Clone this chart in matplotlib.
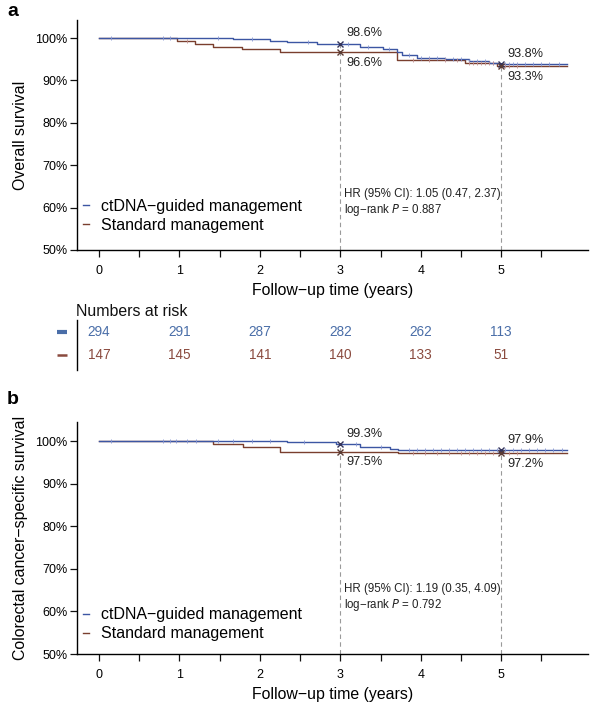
import matplotlib
matplotlib.use("Agg")
import matplotlib.pyplot as plt
from matplotlib.lines import Line2D
import numpy as np

plt.rcParams["font.family"] = ["Liberation Sans", "DejaVu Sans"]

BLUE = "#3c56a3"
BROWN = "#7a3f2e"
BLUE_TXT = "#4a6ea8"
BROWN_TXT = "#8a4a3e"
GREY = "#9a9a9a"

GROUPS = ["ctDNA\u2212guided management", "Standard management"]

# panel a: overall survival (step curves, %)
os_ct_t = [0, 1.67, 2.13, 2.34, 2.71, 3.25, 3.53, 3.70, 3.77, 3.95, 4.30, 4.60, 4.85, 4.97, 5.82]
os_ct_s = [100, 99.7, 99.3, 99.0, 98.6, 98.0, 97.5, 96.6, 95.9, 95.3, 95.0, 94.6, 94.2, 93.8, 93.8]
os_st_t = [0, 0.97, 1.19, 1.42, 1.78, 2.25, 3.70, 4.55, 4.95, 5.82]
os_st_s = [100, 99.3, 98.6, 97.9, 97.3, 96.6, 94.8, 94.2, 93.3, 93.3]
os_ct_cens = [0.15, 0.80, 0.88, 1.48, 1.90, 2.60, 3.10, 3.35, 3.60, 3.85, 4.00, 4.10, 4.20, 4.30,
              4.40, 4.50, 4.60, 4.70, 4.80, 4.90, 5.05, 5.10, 5.15, 5.20, 5.30, 5.40, 5.50, 5.60, 5.72]
os_st_cens = [1.10, 3.90, 4.10, 4.30, 4.45, 4.60, 4.65, 4.70, 4.75, 4.80, 4.85, 4.90, 5.00, 5.05, 5.10, 5.20]

# panel b: colorectal cancer-specific survival
css_ct_t = [0, 2.34, 2.95, 3.25, 3.62, 3.72, 5.82]
css_ct_s = [100, 99.7, 99.3, 98.6, 98.2, 97.9, 97.9]
css_st_t = [0, 1.42, 1.79, 2.25, 3.72, 5.82]
css_st_s = [100, 99.3, 98.6, 97.5, 97.2, 97.2]
css_ct_cens = [0.15, 0.80, 0.88, 0.96, 1.10, 1.20, 1.48, 1.67, 1.90, 2.12, 2.55, 3.20, 3.50, 3.85,
               3.95, 4.05, 4.15, 4.25, 4.35, 4.45, 4.55, 4.65, 4.75, 4.85, 4.95, 5.05, 5.15, 5.25,
               5.35, 5.45, 5.55, 5.65, 5.75]
css_st_cens = [3.90, 4.05, 4.20, 4.35, 4.50, 4.60, 4.70, 4.80, 4.90, 5.00, 5.10, 5.20]

# landmark estimates at 3 and 5 years
landmarks = [3, 5]
os_marks_ct = [98.6, 93.8]
os_marks_st = [96.6, 93.3]
css_marks_ct = [99.3, 97.9]
css_marks_st = [97.5, 97.2]

# numbers at risk
risk_times = [0, 1, 2, 3, 4, 5]
risk_ct = [294, 291, 287, 282, 262, 113]
risk_st = [147, 145, 141, 140, 133, 51]

os_stats = ["HR (95% CI): 1.05 (0.47, 2.37)", "log\u2212rank $P$ = 0.887"]
css_stats = ["HR (95% CI): 1.19 (0.35, 4.09)", "log\u2212rank $P$ = 0.792"]

XLIM = (-0.274, 6.08)


def surv_at(times, surv, t):
    idx = np.searchsorted(times, t, side="right") - 1
    return np.array(surv)[idx]


def km_panel(ax, ct_t, ct_s, st_t, st_s, ct_c, st_c, m_ct, m_st, stats, stats_y, ylabel, ytop,
             leg_y):
    ax.step(st_t, st_s, where="post", color=BROWN, lw=1.0, zorder=3)
    ax.step(ct_t, ct_s, where="post", color=BLUE, lw=1.0, zorder=4)
    ax.plot(ct_c, surv_at(ct_t, ct_s, ct_c), ls="none", marker="|", ms=2.6, mew=0.6,
            color="#8797d4", zorder=5)
    ax.plot(st_c, surv_at(st_t, st_s, st_c), ls="none", marker="|", ms=2.6, mew=0.6,
            color="#c49090", zorder=5)
    for x, hi, lo in zip(landmarks, m_ct, m_st):
        ax.plot([x, x], [50, max(hi, lo)], color=GREY, lw=0.8, ls=(0, (4, 3)), zorder=1)
        ax.plot([x], [hi], marker="x", ms=4.5, mew=1.0, color="#33335a", zorder=6)
        ax.plot([x], [lo], marker="x", ms=4.5, mew=1.0, color="#5a3a33", zorder=6)
        ax.annotate(f"{hi:.1f}%", (x, hi), xytext=(4.3, 7.6), textcoords="offset points",
                    ha="left", va="center", fontsize=9.2, color="#222222")
        ax.annotate(f"{lo:.1f}%", (x, lo), xytext=(4.3, -7.6), textcoords="offset points",
                    ha="left", va="center", fontsize=9.2, color="#222222")
    ax.text(3.05, stats_y[0], stats[0], fontsize=8.3, ha="left", va="center", color="#222222")
    ax.text(3.05, stats_y[1], stats[1], fontsize=8.3, ha="left", va="center", color="#222222")

    handles = [Line2D([], [], color=BLUE, lw=1.0), Line2D([], [], color=BROWN, lw=1.0)]
    ax.legend(handles, GROUPS, loc="lower left", bbox_to_anchor=(0.012, leg_y), frameon=False,
              fontsize=11.5, handlelength=0.35, handletextpad=0.75, labelspacing=0.25,
              borderpad=0, borderaxespad=0)

    ax.set_xlim(*XLIM)
    ax.set_ylim(50, ytop)
    ax.set_xticks(np.arange(0, 5.6, 0.5))
    ax.set_xticklabels([str(int(v)) if v == int(v) else "" for v in np.arange(0, 5.6, 0.5)])
    ax.set_yticks(range(50, 101, 10))
    ax.set_yticklabels([f"{v}%" for v in range(50, 101, 10)])
    ax.tick_params(axis="both", labelsize=9.0, length=5, width=0.9, direction="out",
                   color="#111111")
    ax.tick_params(axis="x", pad=6)
    ax.tick_params(axis="y", pad=2)
    for s in ("top", "right"):
        ax.spines[s].set_visible(False)
    for s in ("left", "bottom"):
        ax.spines[s].set_linewidth(1.0)
    ax.set_xlabel("Follow\u2212up time (years)", fontsize=11.4, labelpad=4)
    ax.set_ylabel(ylabel, fontsize=11.4, labelpad=5)


fig = plt.figure(figsize=(5.94, 7.05), dpi=100)

ax_a = fig.add_axes([0.1296, 0.6454, 0.8604, 0.3262])
km_panel(ax_a, os_ct_t, os_ct_s, os_st_t, os_st_s, os_ct_cens, os_st_cens,
         os_marks_ct, os_marks_st, os_stats, (63.2, 59.4), "Overall survival", 104.25, 0.075)

ax_r = fig.add_axes([0.1296, 0.4752, 0.8604, 0.0709])
ax_r.set_xlim(*XLIM)
ax_r.set_ylim(0, 1)
for s in ("top", "right", "bottom"):
    ax_r.spines[s].set_visible(False)
ax_r.spines["left"].set_linewidth(1.0)
ax_r.set_xticks([])
ax_r.set_yticks([])
for x, n1, n2 in zip(risk_times, risk_ct, risk_st):
    ax_r.text(x, 0.755, str(n1), ha="center", va="center", fontsize=9.8, color=BLUE_TXT)
    ax_r.text(x, 0.30, str(n2), ha="center", va="center", fontsize=9.8, color=BROWN_TXT)
ax_r.plot([-0.03], [0.755], marker="_", ms=7.5, mew=3.0, color=BLUE_TXT,
          transform=ax_r.transAxes, clip_on=False)
ax_r.plot([-0.03], [0.30], marker="_", ms=7.5, mew=1.8, color=BROWN_TXT,
          transform=ax_r.transAxes, clip_on=False)
ax_r.text(-0.002, 1.17, "Numbers at risk", transform=ax_r.transAxes, ha="left", va="center",
          fontsize=11.4, color="#111111")

ax_b = fig.add_axes([0.1296, 0.0723, 0.8604, 0.3291])
km_panel(ax_b, css_ct_t, css_ct_s, css_st_t, css_st_s, css_ct_cens, css_st_cens,
         css_marks_ct, css_marks_st, css_stats, (65.3, 61.5),
         "Colorectal cancer\u2212specific survival", 104.5, 0.055)

fig.text(0.012, 0.983, "a", fontsize=14, fontweight="bold", va="center", ha="left")
fig.text(0.012, 0.433, "b", fontsize=14, fontweight="bold", va="center", ha="left")

fig.savefig("out.png", dpi=100)
